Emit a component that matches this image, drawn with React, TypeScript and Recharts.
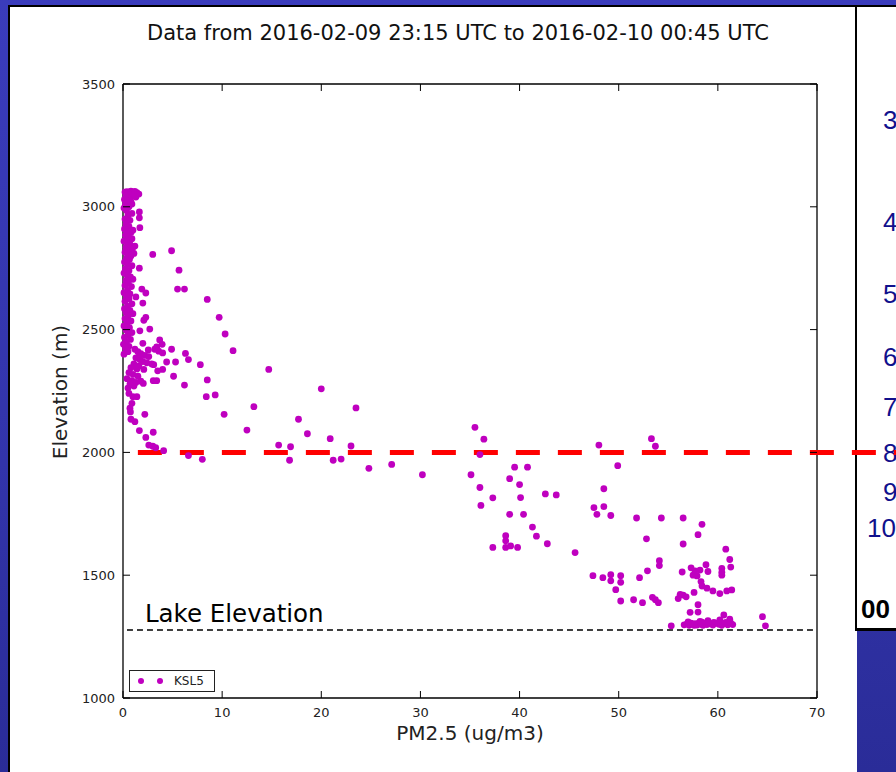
import React from 'react';
import { ScatterChart, Scatter, XAxis, YAxis, ReferenceLine, Legend } from 'recharts';

const xTicks = [0, 10, 20, 30, 40, 50, 60, 70];
const yTicks = [1000, 1500, 2000, 2500, 3000, 3500];
const sideLabels = ['3', '4', '5', '6', '7', '8', '9', '10'];
const sideLabelY = [129, 231, 303, 366, 416, 462, 501, 537];

// KSL5 samples as [PM2.5, elevation]
const columnPoints: [number, number][] = [
  [0.2, 3060], [0.4, 3062], [0.6, 3058], [0.8, 3064], [1.0, 3060], [1.2, 3063], [1.4, 3058], [1.6, 3052],
  [0.3, 3045], [0.5, 3040], [0.7, 3048], [0.9, 3042], [1.1, 3050], [0.15, 3030], [0.45, 3025], [0.8, 3020],
  [1.3, 3040], [0.25, 3010], [0.9, 3011], [0.6, 3000], [0.1, 2995], [0.35, 2985], [0.9, 2973], [1.65, 2979],
  [1.65, 2955], [0.5, 2965], [0.2, 2950], [0.7, 2945], [0.3, 2930], [0.6, 2920], [1.7, 2915], [0.15, 2910],
  [0.4, 2900], [0.8, 2895], [1.0, 2905], [0.25, 2885], [0.55, 2875], [0.9, 2870], [0.1, 2860], [0.4, 2855],
  [0.7, 2848], [1.2, 2840], [0.3, 2835], [0.6, 2825], [0.95, 2830], [0.2, 2815], [0.5, 2805], [0.8, 2800],
  [1.1, 2810], [0.35, 2790], [0.65, 2785], [0.15, 2775], [0.45, 2765], [0.9, 2760], [1.65, 2750], [0.25, 2748],
  [0.6, 2740], [0.1, 2730], [0.4, 2722], [0.75, 2715], [1.0, 2705], [0.3, 2700], [0.55, 2690], [0.2, 2680],
  [0.85, 2675], [1.9, 2665], [0.45, 2660], [0.1, 2650], [0.7, 2645], [2.3, 2649], [0.35, 2635], [1.3, 2633],
  [0.6, 2625], [0.2, 2615], [2.0, 2608], [0.9, 2605], [0.45, 2595], [0.15, 2585], [0.7, 2578], [0.3, 2570],
  [1.0, 2565], [0.5, 2555], [2.3, 2550], [0.2, 2545], [2.1, 2538], [0.8, 2535], [0.4, 2525], [0.1, 2515],
  [0.65, 2508], [1.7, 2495], [0.3, 2498], [0.9, 2488], [0.5, 2478], [0.15, 2468], [0.75, 2460], [0.35, 2450],
  [2.0, 2444], [0.05, 2440], [0.6, 2432], [0.25, 2425], [1.2, 2420], [0.5, 2410], [0.1, 2400],
];

const shoulderPoints: [number, number][] = [
  [2.55, 2417], [1.5, 2410], [1.8, 2402], [2.2, 2395], [2.6, 2390], [1.3, 2385], [1.7, 2378], [2.0, 2370],
  [2.4, 2365], [1.1, 2360], [1.6, 2352], [2.9, 2360], [0.8, 2345], [1.4, 2340], [2.1, 2338], [0.6, 2325],
  [1.0, 2318], [1.5, 2310], [0.4, 2300], [0.9, 2292], [1.3, 2285], [2.05, 2281], [1.8, 2290], [0.7, 2278],
  [1.1, 2270], [0.5, 2262], [0.6, 2240], [1.0, 2227], [1.4, 2227], [0.9, 2200], [0.7, 2180], [0.75, 2165],
  [0.8, 2135], [1.2, 2125], [2.2, 2155], [1.65, 2089], [3.05, 2082], [2.3, 2061], [2.6, 2030], [3.0, 2025],
  [3.3, 2019], [4.1, 2007], [6.6, 1987], [8.0, 1972],
  [3.7, 2458], [3.95, 2440], [3.4, 2430], [3.2, 2420], [3.6, 2412], [4.0, 2405], [4.9, 2420], [4.4, 2368],
  [5.3, 2368], [3.1, 2357], [3.5, 2332], [4.0, 2338], [3.05, 2292], [3.4, 2292], [5.1, 2310], [6.2, 2274],
  [6.3, 2403], [6.6, 2378], [7.8, 2357], [8.5, 2295], [8.4, 2227], [9.3, 2234], [10.2, 2155], [12.5, 2091],
  [13.2, 2186], [14.7, 2338], [11.1, 2414], [10.3, 2482], [9.7, 2550], [8.5, 2623], [5.5, 2665], [6.2, 2665],
  [5.65, 2742], [4.9, 2821], [3.0, 2806], [2.7, 2502],
];

const midPoints: [number, number][] = [
  [15.7, 2030], [16.9, 2023], [16.8, 1968], [17.7, 2135], [18.6, 2076], [20.0, 2259], [20.9, 2056], [21.2, 1968],
  [22.0, 1973], [23.0, 2026], [23.5, 2181], [24.8, 1935], [27.1, 1951], [30.2, 1909],
  [35.5, 2102], [36.4, 2054], [36.0, 1991], [35.1, 1909], [36.0, 1857], [36.1, 1784], [37.3, 1815], [39.5, 1940],
  [40.8, 1940], [39.0, 1893], [40.0, 1869], [40.1, 1816], [39.0, 1748], [40.4, 1748], [42.6, 1831], [43.7, 1827],
  [41.3, 1696], [41.7, 1659], [42.8, 1628], [45.6, 1592], [38.6, 1661], [38.6, 1640], [38.6, 1613], [39.1, 1619],
  [39.8, 1613], [37.3, 1613],
];

const lowPoints: [number, number][] = [
  [48.0, 2030], [49.9, 1946], [48.5, 1852], [47.5, 1775], [48.5, 1779], [47.8, 1748], [49.2, 1743], [51.8, 1733],
  [54.3, 1733], [53.3, 2056], [53.7, 2025], [52.8, 1648], [54.1, 1559], [54.1, 1539], [52.9, 1518], [47.4, 1498],
  [48.4, 1490], [49.2, 1502], [49.2, 1477], [49.7, 1441], [50.2, 1498], [50.2, 1471], [50.2, 1395], [51.5, 1400],
  [52.4, 1388], [52.1, 1490], [53.4, 1410], [53.7, 1400], [54.0, 1388],
  [56.5, 1733], [58.4, 1707], [58.0, 1665], [56.5, 1627], [60.8, 1606], [61.2, 1564], [61.3, 1533], [60.4, 1528],
  [60.4, 1512], [60.4, 1500], [58.8, 1543], [56.4, 1513], [57.3, 1530], [57.7, 1518], [58.2, 1521], [57.9, 1497],
  [57.5, 1500], [58.3, 1474], [58.4, 1456], [59.0, 1515], [57.6, 1430], [58.9, 1447], [59.5, 1436], [60.2, 1425],
  [60.9, 1436], [61.4, 1440], [56.0, 1405], [56.2, 1422], [56.5, 1419], [56.8, 1412], [57.2, 1349], [58.0, 1380],
  [58.0, 1350], [60.6, 1338], [61.2, 1321], [64.5, 1331], [64.8, 1294], [55.3, 1294],
];

const surfacePoints: [number, number][] = [
  [56.6, 1298], [56.9, 1302], [57.1, 1296], [57.3, 1305], [57.5, 1299], [57.7, 1303], [57.9, 1297], [58.1, 1306],
  [58.3, 1300], [58.5, 1296], [58.7, 1304], [58.9, 1299], [59.2, 1302], [59.5, 1297], [59.8, 1305], [60.1, 1300],
  [60.4, 1296], [60.7, 1303], [61.0, 1298], [61.3, 1305], [61.5, 1299], [57.0, 1310], [58.2, 1312], [59.0, 1315],
  [60.2, 1318], [61.2, 1310], [60.8, 1308], [58.4, 1309], [57.6, 1296], [59.6, 1308],
];

const lakeElevation = 1277;
const cutoffElevation = 2000;

const ksl5 = [...columnPoints, ...shoulderPoints, ...midPoints, ...lowPoints, ...surfacePoints].map(
  ([pm, elev]) => ({ pm, elev })
);

const font = 'DejaVu Sans, sans-serif';
const PLOT_TOP = 84;
const PLOT_RIGHT = 817;
const TICK = 7;

const Dot = (props: any) => <circle cx={props.cx} cy={props.cy} r={3.4} fill="#bf00bf" />;

// matplotlib-style inward ticks on bottom + mirrored on top
const XTick = (props: any) => {
  const { x, y, payload } = props;
  return (
    <g>
      <line x1={x} x2={x} y1={y} y2={y - TICK} stroke="#000" />
      <line x1={x} x2={x} y1={PLOT_TOP} y2={PLOT_TOP + TICK} stroke="#000" />
      <text x={x} y={y + 19} textAnchor="middle" fontSize={13} fontFamily={font} fill="#222">
        {payload.value}
      </text>
    </g>
  );
};

// inward ticks on left + mirrored on right
const YTick = (props: any) => {
  const { x, y, payload } = props;
  return (
    <g>
      <line x1={x} x2={x + TICK} y1={y} y2={y} stroke="#000" />
      <line x1={PLOT_RIGHT} x2={PLOT_RIGHT - TICK} y1={y} y2={y} stroke="#000" />
      <text x={x - 8} y={y} textAnchor="end" dominantBaseline="central" fontSize={13} fontFamily={font} fill="#222">
        {payload.value}
      </text>
    </g>
  );
};

const LakeLabel = (props: any) => {
  const vb = props.viewBox || { x: 127, y: 630 };
  return (
    <text x={vb.x + 18} y={vb.y - 8} fontSize={24.5} fontFamily={font} fill="#000">
      Lake Elevation
    </text>
  );
};

const LegendBox = () => (
  <div
    style={{
      width: 84,
      height: 20,
      border: '1px solid #222',
      background: '#fff',
      display: 'flex',
      alignItems: 'center',
      fontFamily: font,
      fontSize: 12,
      color: '#222',
    }}
  >
    <svg width={44} height={20}>
      <circle cx={11} cy={10} r={3} fill="#bf00bf" />
      <circle cx={30} cy={10} r={3} fill="#bf00bf" />
    </svg>
    <span>KSL5</span>
  </div>
);

export default function App() {
  return (
    <div
      style={{
        position: 'absolute',
        left: 0,
        top: 0,
        width: 896,
        height: 772,
        overflow: 'hidden',
        background: 'linear-gradient(180deg, #3a3cbc 0%, #3234aa 60%, #2a2c98 100%)',
      }}
    >
      <div
        style={{
          position: 'absolute',
          left: 8,
          top: 5,
          width: 849,
          height: 772,
          background: '#fff',
          borderLeft: '2px solid #000',
          borderTop: '2px solid #000',
          boxSizing: 'border-box',
        }}
      />
      <div
        style={{
          position: 'absolute',
          left: 855,
          top: 5,
          width: 60,
          height: 626,
          background: '#fff',
          borderLeft: '2px solid #000',
          borderBottom: '3px solid #000',
          borderTop: '2px solid #000',
          boxSizing: 'border-box',
        }}
      />
      <svg width={896} height={772} style={{ position: 'absolute', left: 0, top: 0 }}>
        <text x={458} y={40} textAnchor="middle" fontSize={21} fontFamily={font} fill="#111">
          Data from 2016-02-09 23:15 UTC to 2016-02-10 00:45 UTC
        </text>
        {sideLabels.map((s, i) => (
          <text key={s} x={s.length > 1 ? 867 : 883} y={sideLabelY[i]} fontSize={26} fontFamily="Liberation Sans, Arial, sans-serif" fill="#10108c">
            {s}
          </text>
        ))}
        <text x={861} y={618} fontSize={26} fontWeight="bold" fontFamily="Liberation Sans, Arial, sans-serif" fill="#000">
          00
        </text>
      </svg>
      <div style={{ position: 'absolute', left: 0, top: 0 }}>
        <ScatterChart width={896} height={772} margin={{ top: 84, right: 79, bottom: 44, left: 63 }}>
          <XAxis
            dataKey="pm"
            type="number"
            domain={[0, 70]}
            ticks={xTicks}
            height={30}
            tickSize={0}
            tickMargin={0}
            tickLine={false}
            tick={<XTick />}
            axisLine={{ stroke: '#000', strokeWidth: 1.3 }}
            label={{
              value: 'PM2.5 (ug/m3)',
              position: 'bottom',
              offset: -2,
              style: { fontSize: 20, fill: '#222', fontFamily: font },
            }}
          />
          <YAxis
            dataKey="elev"
            type="number"
            domain={[1000, 3500]}
            ticks={yTicks}
            width={60}
            tickSize={0}
            tickMargin={0}
            tickLine={false}
            tick={<YTick />}
            axisLine={{ stroke: '#000', strokeWidth: 1.3 }}
            label={{
              content: () => (
                <text x={60} y={392} transform="rotate(-90 60 392)" textAnchor="middle" dominantBaseline="central" fontSize={20} fill="#222" fontFamily={font}>
                  Elevation (m)
                </text>
              ),
            }}
          />
          <ReferenceLine y={3500} stroke="#000" strokeWidth={1.3} />
          <ReferenceLine x={70} stroke="#000" strokeWidth={1.3} />
          <Scatter name="KSL5" data={ksl5} shape={Dot} isAnimationActive={false} />
          <ReferenceLine
            segment={[{ x: 0.4, y: lakeElevation }, { x: 69.6, y: lakeElevation }]}
            stroke="#000"
            strokeWidth={1.5}
            strokeDasharray="6 4"
            label={<LakeLabel />}
          />
          <ReferenceLine
            segment={[{ x: 1.5, y: cutoffElevation }, { x: 78.2, y: cutoffElevation }]}
            stroke="#ff0000"
            strokeWidth={5}
            strokeDasharray="24 18"
            ifOverflow="visible"
          />
          <Legend
            layout="vertical"
            align="center"
            verticalAlign="middle"
            content={<LegendBox />}
            wrapperStyle={{ left: 129, top: 670, width: 86, height: 22 }}
          />
        </ScatterChart>
      </div>
    </div>
  );
}
